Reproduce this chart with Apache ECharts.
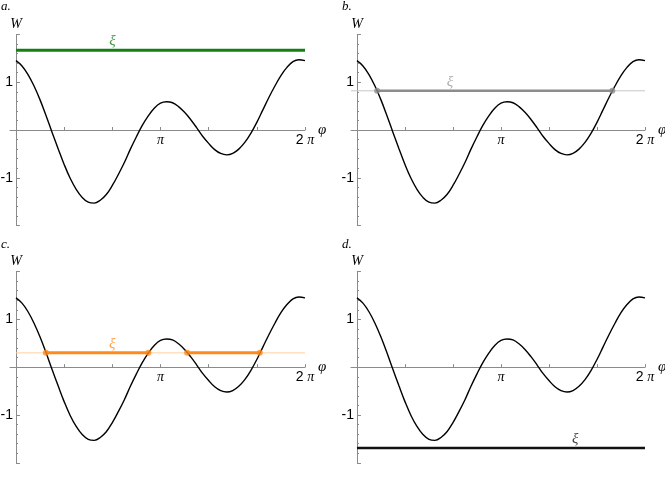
<!DOCTYPE html>
<html>
<head>
<meta charset="utf-8">
<script src="https://cdn.jsdelivr.net/npm/echarts@6/dist/echarts.min.js"></script>
<style>
html, body { margin: 0; padding: 0; background: #fff; }
#chart { width: 665px; height: 480px; }
</style>
</head>
<body>
<div id="chart"></div>
<script>
const wValues = [
  1.45, 1.34, 1.16, 0.92, 0.63, 0.30, -0.05, -0.39, -0.72, -1.01, -1.24, -1.41,
  -1.51, -1.53, -1.47, -1.35, -1.16, -0.93, -0.68, -0.40, -0.14, 0.10, 0.30, 0.46,
  0.56, 0.59, 0.57, 0.49, 0.37, 0.22, 0.05, -0.13, -0.28, -0.41, -0.49, -0.52,
  -0.49, -0.40, -0.26, -0.07, 0.16, 0.42, 0.68, 0.92, 1.14, 1.31, 1.43, 1.47,
  1.45
]
const panelNames = ['a.', 'b.', 'c.', 'd.']
// level of xi in each panel
const xiLevels = [1.67, 0.82, 0.30, -1.69]
// phi where xi meets the curve, taken in pairs
const crossingsB = [0.44, 5.57]
const crossingsC = [0.65, 2.88, 3.72, 5.30]
const xTickValues = [Math.PI / 3, 2 * Math.PI / 3, Math.PI, 4 * Math.PI / 3, 5 * Math.PI / 3, 2 * Math.PI]
const xLabelValues = [Math.PI, 2 * Math.PI]
const yLabelValues = [-1, 1]

const TWO_PI = 2 * Math.PI
const X_MIN = -0.13
const GRID_H = 191.2
const curveData = wValues.map((w, k) => [k * Math.PI / 24, w])

// layout / style per panel
const panels = [
  { left: 10, top: 34.4, width: 295, color: '#148014', thin: null, lw: 3, labelColor: '#148014', labelPhi: 2.1, thinFrom: 0 },
  { left: 351, top: 34.4, width: 294, color: '#8c8c8c', thin: '#c6c6c6', lw: 2.5, labelColor: '#9a9a9a', labelPhi: 2.03, thinFrom: X_MIN },
  { left: 10, top: 271.6, width: 295, color: '#ff8a1c', thin: '#ffcf9e', lw: 3, labelColor: '#ff8a1c', labelPhi: 2.09, thinFrom: 0 },
  { left: 351, top: 271.6, width: 294, color: '#111111', thin: null, lw: 2.5, labelColor: '#111111', labelPhi: 4.76, thinFrom: 0 }
]
const segments = [
  [0, TWO_PI],
  crossingsB,
  crossingsC,
  [0, TWO_PI]
]
const dots = [[], crossingsB, crossingsC, []]

const serifItalic = { fontFamily: 'Liberation Serif', fontStyle: 'italic' }
const axisGray = '#8a8a8a'

function initOption () {
  const grid = []
  const xAxis = []
  const yAxis = []
  const series = []
  const title = []

  panels.forEach((p, i) => {
    grid.push({ left: p.left, top: p.top, width: p.width, height: GRID_H, outerBoundsMode: 'none', containLabel: false })
    title.push({
      text: panelNames[i],
      left: p.left - 9,
      top: p.top - 34,
      padding: 0,
      textStyle: Object.assign({ fontSize: 13, fontWeight: 'normal', color: '#000' }, serifItalic)
    })
    // axes cross at (0, 0): shift them from the grid edges
    xAxis.push({
      type: 'value',
      gridIndex: i,
      position: 'bottom',
      offset: -GRID_H / 2,
      min: X_MIN,
      max: TWO_PI,
      name: 'φ',
      nameLocation: 'end',
      nameGap: 2,
      nameTextStyle: Object.assign({ fontSize: 15, color: '#000', padding: [0, 0, 6, 0] }, serifItalic),
      axisLine: { onZero: false, lineStyle: { color: axisGray, width: 1 } },
      axisTick: { show: true, inside: true, length: 3, customValues: xTickValues, lineStyle: { color: axisGray } },
      axisLabel: {
        customValues: xLabelValues,
        margin: 3,
        color: '#000',
        formatter: function (v) {
          return v > 4 ? '{n|2}{p| π}' : '{p|π}'
        },
        rich: {
          n: { fontFamily: 'Liberation Sans', fontSize: 14, color: '#000' },
          p: Object.assign({ fontSize: 14, color: '#000' }, serifItalic)
        }
      },
      splitLine: { show: false }
    })
    yAxis.push({
      type: 'value',
      gridIndex: i,
      position: 'left',
      offset: X_MIN / (TWO_PI - X_MIN) * p.width,
      min: -2,
      max: 2,
      interval: 1,
      name: 'W',
      nameLocation: 'end',
      nameGap: 3,
      nameTextStyle: Object.assign({ fontSize: 14, color: '#000', align: 'center' }, serifItalic),
      axisLine: { onZero: false, lineStyle: { color: axisGray, width: 1 } },
      axisTick: { show: true, inside: true, length: 4, lineStyle: { color: axisGray } },
      minorTick: { show: true, splitNumber: 5, length: 2, lineStyle: { color: axisGray } },
      axisLabel: {
        margin: 3,
        color: '#000',
        fontFamily: 'Liberation Sans',
        fontSize: 14,
        formatter: function (v) {
          return yLabelValues.indexOf(v) >= 0 ? String(v) : ''
        }
      },
      splitLine: { show: false }
    })

    const xi = xiLevels[i]
    if (p.thin) {
      series.push({
        type: 'line', xAxisIndex: i, yAxisIndex: i, silent: true,
        showSymbol: false,
        lineStyle: { color: p.thin, width: 1 },
        data: [[p.thinFrom, xi], [TWO_PI, xi]]
      })
    }
    const seg = segments[i]
    for (let j = 0; j < seg.length; j += 2) {
      series.push({
        type: 'line', xAxisIndex: i, yAxisIndex: i, silent: true,
        showSymbol: false,
        lineStyle: { color: p.color, width: p.lw },
        data: [[seg[j], xi], [seg[j + 1], xi]]
      })
    }
    series.push({
      type: 'line', xAxisIndex: i, yAxisIndex: i, silent: true,
      showSymbol: false,
      smooth: 0.4,
      lineStyle: { color: '#000', width: 1.4 },
      data: curveData
    })
    if (dots[i].length) {
      series.push({
        type: 'scatter', xAxisIndex: i, yAxisIndex: i, silent: true,
        symbolSize: 6,
        itemStyle: { color: p.color },
        data: dots[i].map(phi => [phi, xi]),
        z: 5
      })
    }
    // the xi label
    series.push({
      type: 'scatter', xAxisIndex: i, yAxisIndex: i, silent: true,
      symbolSize: 1,
      itemStyle: { color: 'rgba(0,0,0,0)' },
      label: {
        show: true,
        position: 'top',
        distance: 1,
        formatter: 'ξ',
        color: p.labelColor,
        fontSize: 15,
        fontFamily: 'Liberation Serif',
        fontStyle: 'italic'
      },
      data: [[p.labelPhi, xi]]
    })
  })

  return { animation: false, title, grid, xAxis, yAxis, series }
}

const myChart = echarts.init(document.getElementById('chart'))
myChart.setOption(initOption())
</script>
</body>
</html>
